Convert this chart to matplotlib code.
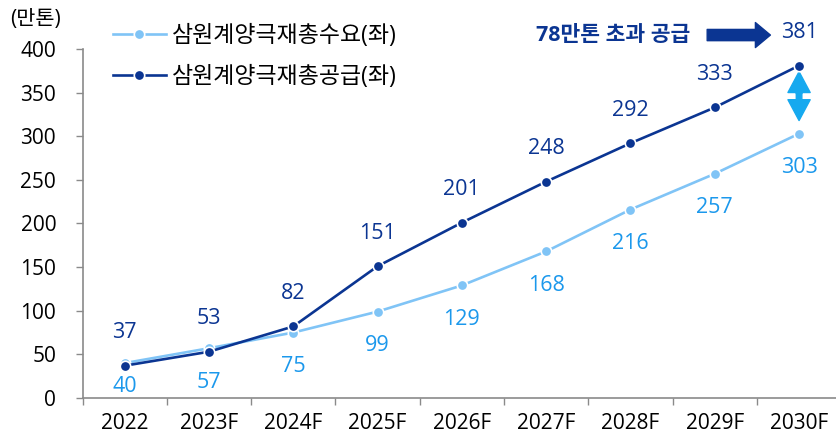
import numpy as np
import matplotlib
matplotlib.use('Agg')
import matplotlib.pyplot as plt

plt.rcParams['font.family'] = ['Open Sans', 'Noto Sans CJK KR', 'DejaVu Sans']

years = ['2022', '2023F', '2024F', '2025F', '2026F', '2027F', '2028F', '2029F', '2030F']
demand = [40, 57, 75, 99, 129, 168, 216, 257, 303]
supply = [37, 53, 82, 151, 201, 248, 292, 333, 381]
demand_name = '삼원계양극재총수요(좌)'
supply_name = '삼원계양극재총공급(좌)'
excess_text = '78만톤 초과 공급'
unit = '(만톤)'

c_light = '#80c4f6'
c_light_txt = '#1b98ec'
c_navy = '#0b3592'
c_arrow = '#16a9ef'
c_axis = '#8a8a8a'

fig = plt.figure(figsize=(8.37, 4.36), dpi=100)
ax = fig.add_axes([0.0986, 0.0872, 0.9014, 0.8004])

x = np.arange(len(years))
ax.plot(x, demand, color=c_light, lw=1.9, marker='o', ms=7.5, mfc=c_light,
        mec='white', mew=1.2, label=demand_name, zorder=3)
ax.plot(x, supply, color=c_navy, lw=1.9, marker='o', ms=7.5, mfc=c_navy,
        mec='white', mew=1.2, label=supply_name, zorder=4)

# value labels
for i, v in enumerate(supply):
    ax.annotate(str(v), (i, v), xytext=(0, 33), textcoords='offset pixels',
                ha='center', va='center', fontsize=15.5, color=c_navy, clip_on=False)
for i, v in enumerate(demand):
    off = -23 if i == 0 else -34
    ax.annotate(str(v), (i, v), xytext=(0, off), textcoords='offset pixels',
                ha='center', va='center', fontsize=15.5, color=c_light_txt, clip_on=False)

# gap arrow at 2030F (two halves from the middle)
mid = (supply[-1] + demand[-1]) / 2 + 7
for end in (supply[-1] - 7, demand[-1] + 15):
    ax.annotate('', xy=(8, end), xytext=(8, mid),
                arrowprops=dict(arrowstyle='simple,head_length=1.5,head_width=1.6,tail_width=0.4',
                                color=c_arrow, mutation_scale=10, shrinkA=0, shrinkB=0),
                annotation_clip=False)

# excess supply note
ax.annotate('', xy=(7.66, 416), xytext=(6.91, 416),
            arrowprops=dict(arrowstyle='simple,head_length=0.6,head_width=1.0,tail_width=0.45',
                            color=c_navy, mutation_scale=18, shrinkA=0, shrinkB=0),
            annotation_clip=False)
ax.text(6.71, 416, excess_text, ha='right', va='center', fontsize=15.5,
        fontweight='bold', color=c_navy, clip_on=False)

ax.set_xlim(-0.5, 8.45)
ax.set_ylim(0, 400)
ax.set_xticks(x)
ax.set_xticklabels(years)
ax.set_xticks(np.arange(-0.5, 8.5, 1), minor=True)
ax.tick_params(axis='x', which='major', length=0, pad=11, labelsize=15)
ax.tick_params(axis='x', which='minor', length=5, width=1, color=c_axis, direction='out')
ax.set_yticks(np.arange(0, 401, 50))
ax.tick_params(axis='y', length=5, width=1, color=c_axis, pad=14, labelsize=15)

for s in ['top', 'right']:
    ax.spines[s].set_visible(False)
for s in ['left', 'bottom']:
    ax.spines[s].set_color(c_axis)
    ax.spines[s].set_linewidth(1.2)

fig.text(0.012, 0.955, unit, ha='left', va='center', fontsize=15)

fig.legend(loc='upper left', bbox_to_anchor=(0.135, 0.945), frameon=False,
           fontsize=16.5, handlelength=2.3, handletextpad=0.25, labelspacing=0.75,
           borderaxespad=0, borderpad=0)

fig.savefig('out.png', dpi=100)
